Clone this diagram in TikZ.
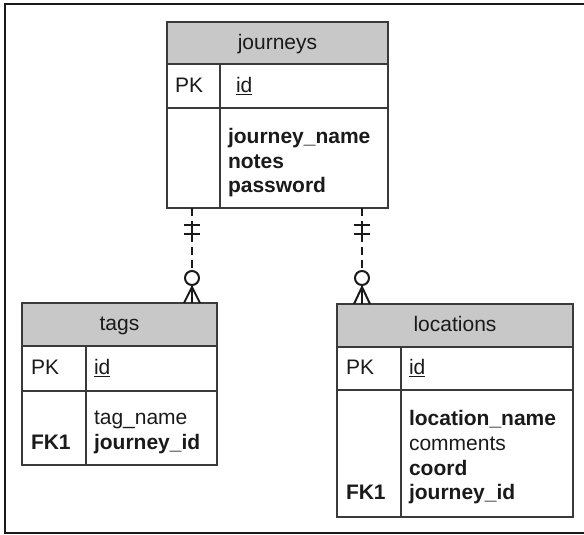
\documentclass[tikz,border=0pt]{standalone}
\usepackage{fontspec}
\setmainfont{Liberation Sans}
\definecolor{edge}{HTML}{3A3A3A}
\definecolor{hdrfill}{HTML}{C8C8C8}
\definecolor{ink}{HTML}{1A1A1A}
\begin{document}
\begin{tikzpicture}[x=1pt,y=-1pt,
  box/.style={draw=edge, line width=1.4pt, inner sep=0pt, outer sep=0pt, rectangle},
  hdr/.style={box, fill=hdrfill},
  txt/.style={inner sep=0pt, outer sep=0pt, text=ink, font=\fontsize{21}{25}\selectfont, anchor=base west},
  ctxt/.style={txt, anchor=base},
  btxt/.style={txt, font=\fontsize{21}{25}\selectfont\bfseries},
  divider/.style={draw=edge, line width=1.4pt},
  rel/.style={draw=ink, line width=2pt},
  reldash/.style={rel, dash pattern=on 8pt off 5pt},
  ring/.style={circle, draw=ink, line width=2pt, fill=white, minimum size=14pt, inner sep=0pt, outer sep=0pt}
]
\useasboundingbox (0,0) rectangle (584,535);
\draw[draw=ink, line width=1.6pt] (590,4) -- (5,4) -- (5,533) -- (590,533);

% ---- journeys ----
\node[hdr, minimum width=221pt, minimum height=42pt] (jh) at (277.5,43) {};
\node[box, minimum width=221pt, minimum height=44pt] (jp) at (277.5,86) {};
\node[box, minimum width=221pt, minimum height=100pt] (jb) at (277.5,158) {};
\coordinate (jd) at (220,0);
\draw[divider] (jd |- jp.north) -- (jd |- jb.south);
\node[ctxt] (jt) at (277.5,50) {journeys};
\node[txt] (jpk) at (175,92.5) {PK};
\node[txt] (jid) at (236,92.5) {\underline{id}};
\node[btxt] (j1) at (228,143) {journey\_name};
\node[btxt] (j2) at (228,168) {notes};
\node[btxt] (j3) at (228,192.5) {password};

% ---- tags ----
\node[hdr, minimum width=195pt, minimum height=43pt] (th) at (119.5,324.5) {};
\node[box, minimum width=195pt, minimum height=45pt] (tp) at (119.5,368.5) {};
\node[box, minimum width=195pt, minimum height=74pt] (tb) at (119.5,428) {};
\coordinate (td) at (86,0);
\draw[divider] (td |- tp.north) -- (td |- tb.south);
\node[ctxt] (tt) at (119.5,330.5) {tags};
\node[txt] (tpk) at (31,374.5) {PK};
\node[txt] (tid) at (94,374.5) {\underline{id}};
\node[txt] (t1) at (94,424) {tag\_name};
\node[btxt] (tfk) at (31,449) {FK1};
\node[btxt] (t2) at (94,449) {journey\_id};

% ---- locations ----
\node[hdr, minimum width=236pt, minimum height=43pt] (lh) at (455,325.5) {};
\node[box, minimum width=236pt, minimum height=43pt] (lp) at (455,368.5) {};
\node[box, minimum width=236pt, minimum height=127pt] (lb) at (455,453.5) {};
\coordinate (ld) at (401,0);
\draw[divider] (ld |- lp.north) -- (ld |- lb.south);
\node[ctxt] (lt) at (455,331.5) {locations};
\node[txt] (lpk) at (346,374.5) {PK};
\node[txt] (lid) at (409,374.5) {\underline{id}};
\node[btxt] (l1) at (409,425) {location\_name};
\node[txt] (l2) at (409,450) {comments};
\node[btxt] (l3) at (409,475) {coord};
\node[btxt] (lfk) at (346,499) {FK1};
\node[btxt] (l4) at (409,499) {journey\_id};

% ---- relationships ----
\foreach \cx/\tgt/\nm in {192/th/a, 362/lh/b} {
  \coordinate (x\nm) at (\cx,0);
  \node[ring] (o\nm) at (\cx,278) {};
  \coordinate (f\nm) at (\cx,287);
  \draw[reldash] (jb.south -| x\nm) -- (o\nm.north);
  \draw[rel] (\cx,224.5) -- (\cx,233.5);
  \draw[rel] (\cx-8,224.5) -- (\cx+8,224.5);
  \draw[rel] (\cx-8,233.5) -- (\cx+8,233.5);
  \draw[rel] (o\nm.south) -- (f\nm);
  \draw[rel] (f\nm) -- ([xshift=-8pt]\tgt.north -| x\nm);
  \draw[rel] (f\nm) -- (\tgt.north -| x\nm);
  \draw[rel] (f\nm) -- ([xshift=8pt]\tgt.north -| x\nm);
}
\end{tikzpicture}
\end{document}
